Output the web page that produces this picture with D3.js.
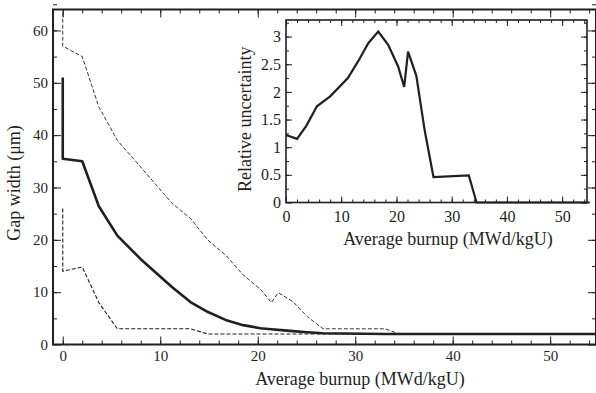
<!DOCTYPE html>
<html>
<head>
<meta charset="utf-8">
<script src="https://cdn.jsdelivr.net/npm/d3@7"></script>
<style>
    svg text { font-family: "Liberation Serif", monospace !important; }
</style>
</head>
<body style="margin:0">
<svg id="chart" width="596" height="393"></svg>
<script>
// main panel: gap width (um) vs average burnup (MWd/kgU)
const burnup = [0, 0, 2, 3.7, 5.6, 8, 11.2, 13.1, 14.9, 16.7, 18.5, 20.3, 21.4, 22.1, 23.6, 25.1, 26.7, 33.1, 34.5, 55];
const gapMean = [51, 35.5, 35, 26.4, 20.8, 16.3, 11, 8.1, 6.2, 4.7, 3.7, 3.1, 2.9, 2.8, 2.55, 2.35, 2.15, 2, 2, 2];
const gapUpper = [76, 57, 55, 45.4, 39, 33.9, 27, 24.1, 19.9, 17.1, 13.3, 10.5, 8, 9.9, 8.2, 5.3, 3, 3, 2, 2];
const gapLower = [26, 14, 14.8, 8, 3, 3, 3, 3, 2, 2, 2, 2, 2, 2, 2, 2, 2, 2, 2, 2];

// inset: relative uncertainty
const insetBurnup = [0, 2, 3.7, 5.6, 8, 11.2, 13.1, 14.9, 16.7, 18.5, 20.3, 21.4, 22.1, 23.6, 25.1, 26.7, 33.1, 34.5, 55];
const relUncertainty = [1.22, 1.15, 1.39, 1.74, 1.92, 2.25, 2.56, 2.88, 3.09, 2.85, 2.46, 2.09, 2.73, 2.29, 1.31, 0.46, 0.49, 0, 0];

const xTicks = [0, 10, 20, 30, 40, 50];
const gapTicks = [0, 10, 20, 30, 40, 50, 60];
const relTicks = [0, 0.5, 1, 1.5, 2, 2.5, 3];
const relTickLabels = ["0", "0.5", "1", "1.5", "2", "2.5", "3"];

const ink = "#231f20";
const serif = '"Liberation Serif", monospace';
const svg = d3.select("#chart");

const main = { left: 53, right: 596, top: 9.5, bottom: 344.5 };
const inset = { left: 286, right: 587, top: 20, bottom: 202.5 };

const x = d3.scaleLinear().domain([-1, 54.7]).range([main.left, main.right]);
const y = d3.scaleLinear().domain([0, 64]).range([main.bottom, main.top]);
const ix = d3.scaleLinear().domain([0, 54.5]).range([inset.left, inset.right]);
const iy = d3.scaleLinear().domain([0, 3.3]).range([inset.bottom, inset.top]);

function range(start, stop, step) {
    return d3.range(start, stop + step / 2, step);
}

// inward ticks on all four sides, labels only on bottom and left
function drawFrame(g, box, xs, ys, o) {
    let ax = [
        [d3.axisBottom, box.bottom, xs, o.xMajor, o.xMinor, "x"],
        [d3.axisTop, box.top, xs, o.xMajor, o.xMinor, "x"],
        [d3.axisLeft, box.left, ys, o.yMajor, o.yMinor, "y"],
        [d3.axisRight, box.right, ys, o.yMajor, o.yMinor, "y"]
    ];

    ax.forEach(function(a, i) {
        let [fn, pos, scale, major, minor, dim] = a;
        let tr = dim === "x" ? `translate(0,${pos})` : `translate(${pos},0)`;

        g.append("g")
            .attr("transform", tr)
            .call(fn(scale).tickValues(minor).tickSize(-o.minorLen).tickSizeOuter(0).tickFormat(""))
            .call(s => s.select(".domain").remove());

        let labelled = (i === 0 || i === 2);
        let axis = fn(scale).tickValues(major).tickSize(-o.majorLen).tickSizeOuter(0)
            .tickPadding(dim === "x" ? o.xPad : o.yPad);
        if (labelled) {
            axis.tickFormat((d, k) => (dim === "y" && o.yLabels) ? o.yLabels[k] : d);
        } else {
            axis.tickFormat("");
        }

        g.append("g")
            .attr("transform", tr)
            .call(axis)
            .call(s => s.select(".domain").remove())
            .call(s => s.selectAll("text")
                .attr("fill", ink)
                .style("font-family", serif)
                .style("font-size", o.font + "px"));
    });

    g.selectAll(".tick line").attr("stroke", ink).attr("stroke-width", 1);

    g.append("rect")
        .attr("x", box.left)
        .attr("y", box.top)
        .attr("width", box.right - box.left)
        .attr("height", box.bottom - box.top)
        .attr("fill", "none")
        .attr("stroke", ink)
        .attr("stroke-width", o.frameWidth);
}

function label(txt, xPos, yPos, rotate) {
    return svg.append("text")
        .attr("transform", `translate(${xPos},${yPos})` + (rotate ? " rotate(-90)" : ""))
        .attr("text-anchor", "middle")
        .attr("fill", ink)
        .style("font-family", serif)
        .style("font-size", "18px")
        .text(txt);
}

svg.append("defs").append("clipPath")
    .attr("id", "mainClip")
    .append("rect")
    .attr("x", main.left)
    .attr("y", main.top)
    .attr("width", main.right - main.left)
    .attr("height", main.bottom - main.top);

// main lines
let mainLine = d3.line()
    .x((d, i) => x(burnup[i]))
    .y(d => y(d));

let lines = svg.append("g").attr("clip-path", "url(#mainClip)");

lines.append("path")
    .attr("d", mainLine(gapUpper))
    .attr("fill", "none")
    .attr("stroke", ink)
    .attr("stroke-width", 0.9)
    .attr("stroke-dasharray", "4,2");

lines.append("path")
    .attr("d", mainLine(gapLower))
    .attr("fill", "none")
    .attr("stroke", ink)
    .attr("stroke-width", 1.1)
    .attr("stroke-dasharray", "4,2");

lines.append("path")
    .attr("d", mainLine(gapMean))
    .attr("fill", "none")
    .attr("stroke", ink)
    .attr("stroke-width", 2.6)
    .attr("stroke-linejoin", "round");

drawFrame(svg.append("g"), main, x, y, {
    xMajor: xTicks,
    xMinor: range(0, 54, 2),
    yMajor: gapTicks,
    yMinor: range(5, 64, 5),
    majorLen: 8,
    minorLen: 4,
    xPad: 6,
    yPad: 5,
    font: 15,
    frameWidth: 2
});

label("Gap width (μm)", 20, (main.top + main.bottom) / 2 + 6, true);
label("Average burnup (MWd/kgU)", 360, 385, false);

// inset
svg.append("rect")
    .attr("x", inset.left)
    .attr("y", inset.top)
    .attr("width", inset.right - inset.left)
    .attr("height", inset.bottom - inset.top)
    .attr("fill", "#fff");

let insetLine = d3.line()
    .x((d, i) => ix(insetBurnup[i]))
    .y(d => iy(d));

svg.append("path")
    .attr("d", insetLine(relUncertainty))
    .attr("fill", "none")
    .attr("stroke", ink)
    .attr("stroke-width", 2.2)
    .attr("stroke-linejoin", "miter");

drawFrame(svg.append("g"), inset, ix, iy, {
    xMajor: xTicks,
    xMinor: range(0, 54, 2),
    yMajor: relTicks,
    yLabels: relTickLabels,
    yMinor: range(0.25, 3.25, 0.25),
    majorLen: 6,
    minorLen: 3,
    xPad: 8,
    yPad: 5,
    font: 16,
    frameWidth: 1.6
});

label("Relative uncertainty", 251, (inset.top + inset.bottom) / 2 + 8, true);
label("Average burnup (MWd/kgU)", 448, 245, false);
</script>
</body>
</html>
